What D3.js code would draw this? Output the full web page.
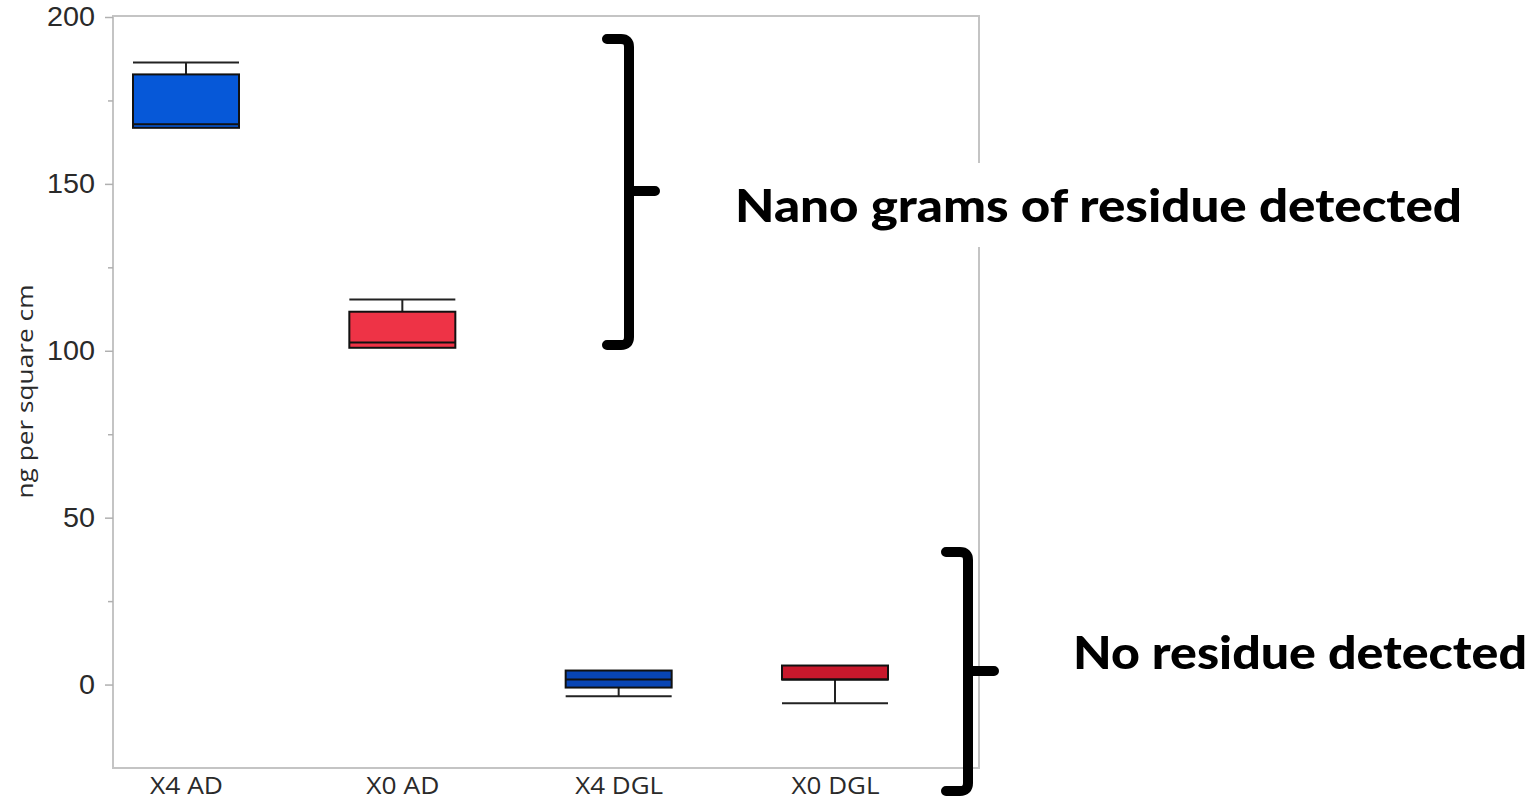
<!DOCTYPE html>
<html><head><meta charset="utf-8">
<script src="https://cdn.jsdelivr.net/npm/d3@7"></script>
<style>body{margin:0;background:#fff}</style>
</head><body>
<svg id="chart" width="1533" height="800"></svg>
<script>
// Residue per group (ng per square cm): box plot summaries
const categories = ["X4 AD", "X0 AD", "X4 DGL", "X0 DGL"];
const whiskerLow  = [166.8, 100.9, -3.5, -5.6];
const q1          = [166.8, 100.9, -0.9, 1.5];
const medians     = [167.9, 102.5, 1.5, 1.5];
const q3          = [182.8, 111.7, 4.2, 5.7];
const whiskerHigh = [186.4, 115.4, 4.2, 5.7];
const boxColors   = ["#0658d8", "#ee3346", "#0845b5", "#c8182c"];
const majorTicks  = [0, 50, 100, 150, 200];
const minorTicks  = [25, 75, 125, 175];
const yLabel = "ng per square cm";
const noteTop = "Nano grams of residue detected";
const noteBottom = "No residue detected";

const svg = d3.select("#chart");
const frame = {left: 113, right: 979, top: 17, bottom: 768};

const y = d3.scaleLinear().domain([-25, 200]).range([frame.bottom, frame.top]);
const x = d3.scalePoint().domain(categories).range([186, 835]);
const boxW = 106;

// plot frame
svg.append("rect")
  .attr("x", frame.left).attr("y", frame.top - 1)
  .attr("width", frame.right - frame.left).attr("height", frame.bottom - frame.top + 1)
  .attr("fill", "none").attr("stroke", "#c4c4c4").attr("stroke-width", 2);

// y axis: major ticks with labels, minor ticks without
const yAxis = d3.axisLeft(y).tickValues(majorTicks).tickSize(8).tickPadding(10);
const gy = svg.append("g").attr("transform", `translate(${frame.left},0)`).call(yAxis);
gy.select(".domain").remove();
gy.selectAll(".tick line").attr("stroke", "#b0b0b0").attr("stroke-width", 1.5);
gy.selectAll(".tick text")
  .attr("font-family", "'Liberation Sans', Arial, sans-serif").attr("font-size", 27)
  .attr("fill", "#2a2a2a")
  .attr("textLength", d => String(d).length * 16).attr("lengthAdjust", "spacingAndGlyphs");

const yMinor = d3.axisLeft(y).tickValues(minorTicks).tickSize(5).tickFormat("");
const gm = svg.append("g").attr("transform", `translate(${frame.left},0)`).call(yMinor);
gm.select(".domain").remove();
gm.selectAll(".tick line").attr("stroke", "#b0b0b0").attr("stroke-width", 1.5);

// x axis labels
const xAxis = d3.axisBottom(x).tickSize(0).tickPadding(10);
const gx = svg.append("g").attr("transform", `translate(0,${frame.bottom})`).call(xAxis);
gx.select(".domain").remove();
gx.selectAll(".tick text")
  .attr("y", 26).attr("dy", 0)
  .attr("font-family", "'Open Sans', sans-serif").attr("font-size", 24)
  .attr("fill", "#2a2a2a")
  .attr("textLength", d => d.length > 5 ? 88 : 73).attr("lengthAdjust", "spacingAndGlyphs");

// y axis title
svg.append("text")
  .attr("transform", `translate(33,${(y(200) + y(-25)) / 2 - 1}) rotate(-90)`)
  .attr("text-anchor", "middle")
  .attr("font-family", "'Open Sans', sans-serif").attr("font-size", 22)
  .attr("fill", "#2a2a2a")
  .attr("textLength", 214).attr("lengthAdjust", "spacingAndGlyphs")
  .text(yLabel);

// boxes
const rows = categories.map((c, i) => ({
  c, lo: whiskerLow[i], q1: q1[i], med: medians[i], q3: q3[i], hi: whiskerHigh[i], color: boxColors[i]
}));
const g = svg.append("g");
rows.forEach(d => {
  const cx = x(d.c), l = cx - boxW / 2, r = cx + boxW / 2;
  if (d.hi > d.q3) {
    g.append("line").attr("x1", cx).attr("x2", cx).attr("y1", y(d.hi)).attr("y2", y(d.q3))
      .attr("stroke", "#222").attr("stroke-width", 2);
    g.append("line").attr("x1", l).attr("x2", r).attr("y1", y(d.hi)).attr("y2", y(d.hi))
      .attr("stroke", "#222").attr("stroke-width", 2);
  }
  if (d.lo < d.q1) {
    g.append("line").attr("x1", cx).attr("x2", cx).attr("y1", y(d.lo)).attr("y2", y(d.q1))
      .attr("stroke", "#222").attr("stroke-width", 2);
    g.append("line").attr("x1", l).attr("x2", r).attr("y1", y(d.lo)).attr("y2", y(d.lo))
      .attr("stroke", "#222").attr("stroke-width", 2);
  }
  g.append("rect").attr("x", l).attr("y", y(d.q3))
    .attr("width", boxW).attr("height", y(d.q1) - y(d.q3))
    .attr("fill", d.color).attr("stroke", "#111").attr("stroke-width", 2);
  g.append("line").attr("x1", l).attr("x2", r).attr("y1", y(d.med)).attr("y2", y(d.med))
    .attr("stroke", "#111").attr("stroke-width", 2);
});

// annotations: braces and notes
const brace = (xv, top, mid, bottom) =>
  `M${xv - 22},${top} H${xv - 8} Q${xv},${top} ${xv},${top + 8} V${bottom - 8} Q${xv},${bottom} ${xv - 8},${bottom} H${xv - 22}` +
  ` M${xv},${mid} H${xv + 26}`;

svg.append("rect").attr("x", 728).attr("y", 163).attr("width", 745).attr("height", 84).attr("fill", "#fff");

svg.append("path").attr("d", brace(629, 39, 191, 345))
  .attr("fill", "none").attr("stroke", "#000").attr("stroke-width", 10)
  .attr("stroke-linecap", "round").attr("stroke-linejoin", "round");
svg.append("path").attr("d", brace(968, 552, 671, 791))
  .attr("fill", "none").attr("stroke", "#000").attr("stroke-width", 10)
  .attr("stroke-linecap", "round").attr("stroke-linejoin", "round");

svg.append("text").attr("x", 735).attr("y", 222)
  .attr("font-family", "Lato, sans-serif").attr("font-weight", 900).attr("font-size", 46)
  .attr("fill", "#000").attr("textLength", 727).attr("lengthAdjust", "spacingAndGlyphs")
  .text(noteTop);
svg.append("text").attr("x", 1073).attr("y", 669)
  .attr("font-family", "Lato, sans-serif").attr("font-weight", 900).attr("font-size", 46)
  .attr("fill", "#000").attr("textLength", 454).attr("lengthAdjust", "spacingAndGlyphs")
  .text(noteBottom);
</script>
</body></html>
